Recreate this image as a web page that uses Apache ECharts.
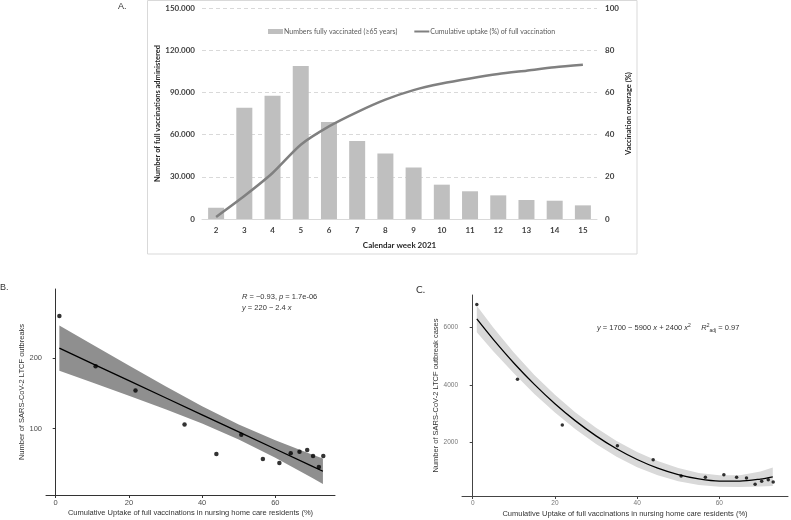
<!DOCTYPE html>
<html>
<head>
<meta charset="utf-8">
<script src="https://cdn.jsdelivr.net/npm/echarts@6/dist/echarts.min.js"></script>
<style>
html,body{margin:0;padding:0;background:#fff;}
#chart{width:791px;height:520px;}
</style>
</head>
<body>
<div id="chart"></div>
<script>
// ---- Panel A data ----
const weeks = ['2','3','4','5','6','7','8','9','10','11','12','13','14','15'];
const fullyVaccinated = [8000, 79000, 87600, 108700, 68900, 55400, 46600, 36700, 24400, 19700, 16800, 13500, 13000, 9700];
const uptakePct = [1, 10.9, 21.8, 35.2, 43.9, 50.7, 56.6, 61.1, 64.2, 66.6, 68.7, 70.3, 71.9, 73.1];
const leftTicks = ['0','30.000','60.000','90.000','120.000','150.000'];
const rightTicks = ['0','20','40','60','80','100'];

// ---- Panel B data ----
const outbreaks = [259, 188, 154, 106, 64.4, 91.6, 57.3, 51.7, 65.4, 67.6, 70, 61.6, 46, 61.6];
const fitBx = [1, 10, 20, 30, 40, 50, 60, 70, 73];
const fitB = [213.6, 191.9, 167.8, 143.7, 119.6, 95.5, 71.4, 47.3, 40.1];
const fitBLow = [181.6, 165.1, 146.6, 127.6, 107.4, 84.9, 59.0, 30.8, 22.1];
const fitBHigh = [245.6, 218.7, 189.0, 159.8, 131.8, 106.1, 83.8, 63.8, 58.1];
const ticksBx = [0, 20, 40, 60];
const ticksBy = [100, 200];

// ---- Panel C data ----
const outbreakCases = [6790, 4190, 2600, 1880, 1390, 830, 785, 870, 785, 760, 545, 645, 700, 620];
const fitCx = [1, 5, 10, 15, 20, 25, 30, 35, 40, 45, 50, 55, 60, 65, 70, 73];
const fitC = [6290, 5580, 4760, 4014, 3342, 2745, 2223, 1774, 1401, 1101, 876, 726, 650, 649, 722, 801];
const fitCLow = [5830, 5170, 4400, 3684, 3032, 2450, 1938, 1499, 1136, 851, 646, 516, 450, 444, 462, 481];
const fitCHigh = [6750, 5990, 5120, 4344, 3652, 3040, 2508, 2049, 1666, 1351, 1106, 936, 850, 854, 982, 1121];
const ticksCx = [0, 20, 40, 60];
const ticksCy = [2000, 4000, 6000];

const fontA = 'Lato, "Liberation Sans", sans-serif';
const fontB = '"Liberation Sans", Arial, sans-serif';

function bandRenderer(xs, lo, hi, color) {
  return function (params, api) {
    if (params.dataIndex !== 0) return;
    const pts = [];
    for (let i = 0; i < xs.length; i++) pts.push(api.coord([xs[i], hi[i]]));
    for (let i = xs.length - 1; i >= 0; i--) pts.push(api.coord([xs[i], lo[i]]));
    return { type: 'polygon', shape: { points: pts, smooth: 0 }, style: { fill: color } };
  };
}

const chart = echarts.init(document.getElementById('chart'), null, { renderer: 'canvas' });

const option = {
  animation: false,
  textStyle: { fontFamily: fontA },
  grid: [
    { left: 202, top: 8, width: 395, height: 211 },
    { left: 46, top: 289, width: 289, height: 206 },
    { left: 462, top: 295, width: 326, height: 201 }
  ],
  legend: {
    left: 263, top: 23,
    itemWidth: 15, itemHeight: 5, itemGap: 17,
    textStyle: { fontFamily: fontA, fontSize: 7, color: '#595959', padding: [0, 0, 0, -4] },
    data: [
      { name: 'Numbers fully vaccinated (≥65 years)', icon: 'rect' },
      { name: 'Cumulative uptake (%) of full vaccination', icon: 'path://M0 0H30V4H0Z' }
    ]
  },
  xAxis: [
    {
      type: 'category', gridIndex: 0, data: weeks,
      axisLine: { lineStyle: { color: '#d9d9d9' } },
      axisTick: { show: false },
      axisLabel: { fontFamily: fontA, fontWeight: 'bold', fontSize: 8, color: '#404040', margin: 7 },
      name: 'Calendar week 2021', nameLocation: 'middle', nameGap: 22,
      nameTextStyle: { fontFamily: fontA, fontWeight: 'bold', fontSize: 8, color: '#262626' }
    },
    {
      type: 'value', gridIndex: 1, min: -2.65, max: 76.3,
      axisLine: { show: true, lineStyle: { color: '#333', width: 1 } },
      axisTick: { show: true, customValues: ticksBx, length: 3, lineStyle: { color: '#333' } },
      axisLabel: { customValues: ticksBx, fontFamily: fontB, fontSize: 7.5, color: '#4d4d4d', margin: 4,
        formatter: v => String(v) },
      splitLine: { show: false },
      name: 'Cumulative Uptake of full vaccinations in nursing home care residents (%)',
      nameLocation: 'middle', nameGap: 14,
      nameTextStyle: { fontFamily: fontB, fontSize: 7.5, color: '#333' }
    },
    {
      type: 'value', gridIndex: 2, min: -2.6, max: 76.7,
      axisLine: { show: true, lineStyle: { color: '#444', width: 1 } },
      axisTick: { show: true, customValues: ticksCx, length: 3, lineStyle: { color: '#444' } },
      axisLabel: { customValues: ticksCx, fontFamily: fontB, fontSize: 6.5, color: '#777', margin: 4,
        formatter: v => String(v) },
      splitLine: { show: false },
      name: 'Cumulative Uptake of full vaccinations in nursing home care residents (%)',
      nameLocation: 'middle', nameGap: 14,
      nameTextStyle: { fontFamily: fontB, fontSize: 7.5, color: '#333' }
    }
  ],
  yAxis: [
    {
      type: 'value', gridIndex: 0, min: 0, max: 150000, interval: 30000,
      axisLine: { show: false }, axisTick: { show: false },
      axisLabel: {
        fontFamily: fontA, fontWeight: 'bold', fontSize: 8, color: '#404040', margin: 7,
        formatter: v => leftTicks[Math.round(v / 30000)]
      },
      splitLine: { lineStyle: { color: '#d9d9d9', type: [4, 3], width: 1 } },
      name: 'Number of full vaccinations administered', nameLocation: 'middle', nameGap: 40, nameRotate: 90,
      nameTextStyle: { fontFamily: fontA, fontWeight: 'bold', fontSize: 7.5, color: '#262626' }
    },
    {
      type: 'value', gridIndex: 0, position: 'right', min: 0, max: 100, interval: 20,
      axisLine: { show: false }, axisTick: { show: false },
      axisLabel: {
        fontFamily: fontA, fontWeight: 'bold', fontSize: 8, color: '#404040', margin: 8,
        formatter: v => rightTicks[Math.round(v / 20)]
      },
      splitLine: { show: false },
      name: 'Vaccination coverage (%)', nameLocation: 'middle', nameGap: 28, nameRotate: 90,
      nameTextStyle: { fontFamily: fontA, fontWeight: 'bold', fontSize: 7.5, color: '#262626' }
    },
    {
      type: 'value', gridIndex: 1, min: 6.6, max: 297,
      axisLine: { show: true, lineStyle: { color: '#333', width: 1 } },
      axisTick: { show: true, customValues: ticksBy, length: 3, lineStyle: { color: '#333' } },
      axisLabel: { customValues: ticksBy, fontFamily: fontB, fontSize: 7.5, color: '#4d4d4d', margin: 4,
        formatter: v => String(v) },
      splitLine: { show: false },
      name: 'Number of SARS-CoV-2 LTCF outbreaks', nameLocation: 'middle', nameGap: 20, nameRotate: 90,
      nameTextStyle: { fontFamily: fontB, fontSize: 7.5, color: '#333' }
    },
    {
      type: 'value', gridIndex: 2, min: 132, max: 7123,
      axisLine: { show: true, lineStyle: { color: '#444', width: 1 } },
      axisTick: { show: true, customValues: ticksCy, length: 3, lineStyle: { color: '#444' } },
      axisLabel: { customValues: ticksCy, fontFamily: fontB, fontSize: 6.5, color: '#777', margin: 4,
        formatter: v => String(v) },
      splitLine: { show: false },
      name: 'Number of SARS-CoV-2 LTCF outbreak cases', nameLocation: 'middle', nameGap: 18, nameRotate: 90,
      nameTextStyle: { fontFamily: fontB, fontSize: 7.5, color: '#333' }
    }
  ],
  series: [
    {
      name: 'Numbers fully vaccinated (≥65 years)', type: 'bar', xAxisIndex: 0, yAxisIndex: 0,
      data: fullyVaccinated, barWidth: 16, itemStyle: { color: '#bfbfbf' }
    },
    {
      name: 'Cumulative uptake (%) of full vaccination', type: 'line', xAxisIndex: 0, yAxisIndex: 1,
      data: uptakePct, symbol: 'none', smooth: 0.25,
      lineStyle: { color: '#808080', width: 2.5 }, itemStyle: { color: '#808080' }
    },
    // Panel B
    {
      type: 'custom', xAxisIndex: 1, yAxisIndex: 2, z: 1, silent: true,
      data: fitBx.map((x, i) => [x, fitBLow[i], fitBHigh[i]]),
      encode: { x: 0, y: [1, 2] },
      renderItem: bandRenderer(fitBx, fitBLow, fitBHigh, '#8f8f8f')
    },
    {
      type: 'line', xAxisIndex: 1, yAxisIndex: 2, z: 3, symbol: 'none',
      data: fitBx.map((x, i) => [x, fitB[i]]),
      lineStyle: { color: '#000', width: 1.3 }
    },
    {
      type: 'scatter', xAxisIndex: 1, yAxisIndex: 2, z: 4, symbolSize: 4.5,
      data: uptakePct.map((x, i) => [x, outbreaks[i]]),
      itemStyle: { color: '#000' }
    },
    // Panel C
    {
      type: 'custom', xAxisIndex: 2, yAxisIndex: 3, z: 1, silent: true,
      data: fitCx.map((x, i) => [x, fitCLow[i], fitCHigh[i]]),
      encode: { x: 0, y: [1, 2] },
      renderItem: bandRenderer(fitCx, fitCLow, fitCHigh, '#d9d9d9')
    },
    {
      type: 'line', xAxisIndex: 2, yAxisIndex: 3, z: 3, symbol: 'none', smooth: 0.3,
      data: fitCx.map((x, i) => [x, fitC[i]]),
      lineStyle: { color: '#000', width: 1.3 }
    },
    {
      type: 'scatter', xAxisIndex: 2, yAxisIndex: 3, z: 4, symbolSize: 3.5,
      data: uptakePct.map((x, i) => [x, outbreakCases[i]]),
      itemStyle: { color: '#000' }
    }
  ],
  graphic: [
    { type: 'rect', z: -10, shape: { x: 147.5, y: 0.5, width: 489.5, height: 253.5 },
      style: { fill: 'none', stroke: '#d9d9d9', lineWidth: 1 } },
    { type: 'text', x: 118, y: 7, style: { text: 'A.', font: '9px ' + fontB, fill: '#333', verticalAlign: 'middle' } },
    { type: 'text', x: 0, y: 288, style: { text: 'B.', font: '9px ' + fontB, fill: '#333', verticalAlign: 'middle' } },
    { type: 'text', x: 416, y: 290, style: { text: 'C.', font: '10px ' + fontA, fill: '#333', verticalAlign: 'middle' } },
    { type: 'text', x: 242, y: 297, style: {
        text: '{i|R} = \u22120.93, {i|p} = 1.7e-06', fontFamily: fontB, fontSize: 7.5, fill: '#333', verticalAlign: 'middle',
        rich: { i: { fontStyle: 'italic', fontFamily: fontB, fontSize: 7.5, fill: '#333' } } } },
    { type: 'text', x: 242, y: 308, style: {
        text: '{i|y} = 220 \u2212 2.4 {i|x}', fontFamily: fontB, fontSize: 7.5, fill: '#333', verticalAlign: 'middle',
        rich: { i: { fontStyle: 'italic', fontFamily: fontB, fontSize: 7.5, fill: '#333' } } } },
    { type: 'text', x: 597, y: 328, style: {
        text: '{i|y} = 1700 \u2212 5900 {i|x} + 2400 {i|x}{sup|2}     {i|R}{sup|2}{sub|adj} = 0.97',
        fontFamily: fontB, fontSize: 7.5, fill: '#333', verticalAlign: 'middle',
        rich: {
          i: { fontStyle: 'italic', fontFamily: fontB, fontSize: 7.5, fill: '#333' },
          sup: { fontFamily: fontB, fontSize: 5, fill: '#333', verticalAlign: 'top', padding: [0, 0, 5, 0] },
          sub: { fontFamily: fontB, fontSize: 5, fill: '#333', verticalAlign: 'bottom', padding: [4, 0, 0, 0] }
        } } }
  ]
};
chart.setOption(option);
</script>
</body>
</html>
